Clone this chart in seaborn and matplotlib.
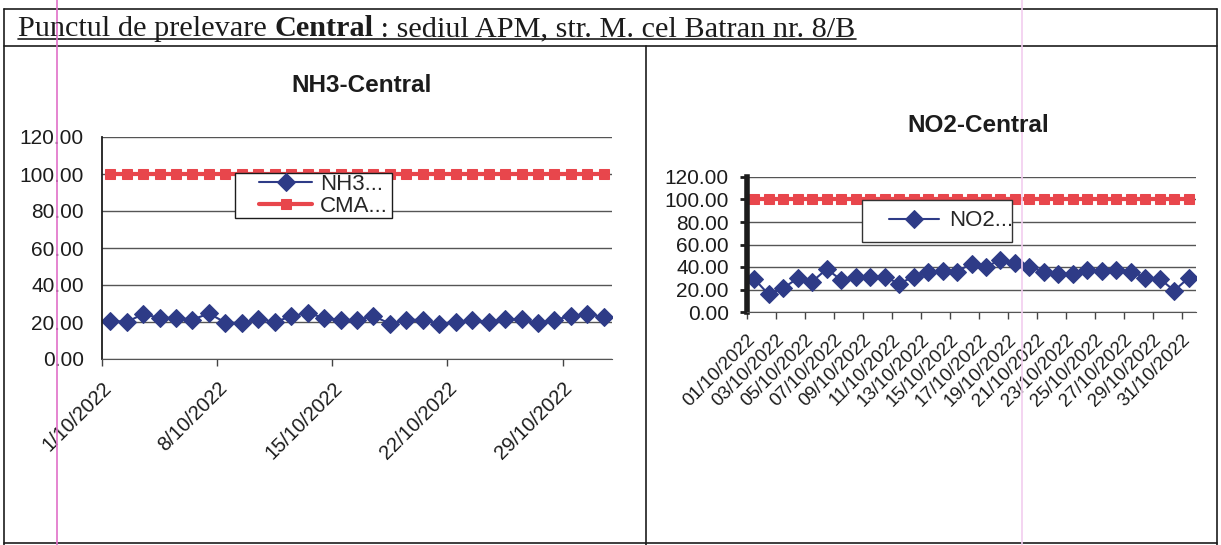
import matplotlib

matplotlib.use("Agg")
import matplotlib.pyplot as plt
import numpy as np
import pandas as pd
import seaborn as sns
from matplotlib.lines import Line2D
from matplotlib.patches import Rectangle

W, H = 1221, 545

# --- data ---
dates = pd.date_range("2022-10-01", "2022-10-31", freq="D")
nh3_values = [20.8, 20.0, 24.3, 22.2, 22.3, 21.3, 24.6, 19.7, 19.4, 21.7, 20.0,
              23.0, 25.0, 22.1, 21.2, 21.1, 23.2, 19.1, 21.3, 21.1, 19.0, 20.0,
              21.0, 20.0, 21.5, 21.6, 19.5, 21.3, 23.0, 24.5, 22.5]
no2_values = [29.4, 15.6, 21.2, 30.0, 27.0, 38.2, 28.5, 30.9, 30.9, 31.5, 25.0,
              31.5, 35.3, 36.8, 36.0, 43.0, 40.0, 46.5, 43.5, 40.0, 36.0, 33.5,
              33.5, 37.5, 36.5, 37.5, 36.0, 30.5, 29.5, 19.0, 30.5]
cma_values = [100.0, 100.0, 100.0, 100.0, 100.0, 100.0, 100.0, 100.0, 100.0, 100.0,
              100.0, 100.0, 100.0, 100.0, 100.0, 100.0, 100.0, 100.0, 100.0, 100.0,
              100.0, 100.0, 100.0, 100.0, 100.0, 100.0, 100.0, 100.0, 100.0, 100.0,
              100.0]
nh3_tick_days = ["2022-10-01", "2022-10-08", "2022-10-15", "2022-10-22", "2022-10-29"]
y_ticks = [0, 20, 40, 60, 80, 100, 120]

BLUE = "#2e3b87"
RED = "#e8464c"
INK = "#1c1c1c"

sns.set_style("white")
plt.rcParams["font.family"] = ["Liberation Sans", "DejaVu Sans"]

fig = plt.figure(figsize=(W / 100, H / 100), dpi=100)


def px_axes(left, top, right, bottom):
    return fig.add_axes([left / W, 1 - bottom / H, (right - left) / W, (bottom - top) / H])


def fig_line(x0, y0, x1, y1, color=INK, lw=1.2):
    fig.add_artist(Line2D([x0 / W, x1 / W], [1 - y0 / H, 1 - y1 / H],
                          transform=fig.transFigure, color=color, linewidth=lw))


def legend_box(x0, y0, x1, y1, edge=INK):
    fig.add_artist(Rectangle((x0 / W, 1 - y1 / H), (x1 - x0) / W, (y1 - y0) / H,
                             transform=fig.transFigure, facecolor="white",
                             edgecolor=edge, linewidth=1, zorder=3))


def style_axes(ax, left_width):
    ax.set_xlim(dates[0], dates[-1] + pd.Timedelta(days=1))
    ax.set_ylim(0, 120)
    ax.set_yticks(y_ticks)
    ax.set_yticklabels([f"{v:.2f}" for v in y_ticks], fontsize=15, color=INK)
    ax.yaxis.grid(True, color="#555555", linewidth=1)
    ax.set_axisbelow(True)
    for s in ["top", "right"]:
        ax.spines[s].set_visible(False)
    ax.spines["left"].set_color(INK)
    ax.spines["left"].set_linewidth(left_width)
    ax.spines["bottom"].set_color("#555555")
    ax.set_xlabel("")
    ax.set_ylabel("")


# points sit in the middle of each day, like the Excel date axis
x_mid = dates + pd.Timedelta(hours=12)

# ---------- NH3 ----------
ax1 = px_axes(102, 137, 612, 359)
sns.lineplot(x=x_mid, y=nh3_values, ax=ax1, color=BLUE, marker="D", markersize=9,
             markeredgecolor=BLUE, linewidth=1.5, label="NH3...")
sns.lineplot(x=x_mid, y=cma_values, ax=ax1, color=RED, marker="s", markersize=7,
             markeredgecolor=RED, linewidth=3, label="CMA...")
style_axes(ax1, 1.3)
ticks1 = pd.to_datetime(nh3_tick_days)
ax1.set_xticks(ticks1)
ax1.set_xticklabels([f"{d.day}/{d.month}/{d.year}" for d in ticks1], fontsize=14.5,
                    rotation=45, ha="right", rotation_mode="anchor", color=INK)
ax1.tick_params(axis="y", length=0, pad=13)
ax1.tick_params(axis="x", length=5, width=1, color="#444444", direction="out", pad=9,
                bottom=True)
h1, l1 = ax1.get_legend_handles_labels()
ax1.get_legend().remove()
legend_box(235, 173, 392, 218)
fig.legend(h1, l1, loc="upper left", bbox_to_anchor=(259 / W, 1 - 174 / H),
           bbox_transform=fig.transFigure, frameon=False, fontsize=16,
           handlelength=2.4, handletextpad=0.35, borderpad=0, borderaxespad=0,
           labelspacing=0.05)

# ---------- NO2 ----------
ax2 = px_axes(747, 177, 1196, 312)
sns.lineplot(x=x_mid, y=no2_values, ax=ax2, color=BLUE, marker="D", markersize=9,
             markeredgecolor=BLUE, linewidth=1.5, label="NO2...")
sns.lineplot(x=x_mid, y=cma_values, ax=ax2, color=RED, marker="s", markersize=7,
             markeredgecolor=RED, linewidth=3, label="_nolegend_")
style_axes(ax2, 4)
ax2.set_xticks(dates[::2])
ax2.set_xticklabels([d.strftime("%d/%m/%Y") for d in dates[::2]], fontsize=13.5,
                    rotation=45, ha="right", rotation_mode="anchor", color=INK)
ax2.tick_params(axis="x", length=5, width=1, color="#444444", direction="out",
                bottom=True, pad=9)
ax2.tick_params(axis="y", length=5, width=2, color=INK, direction="out", left=True, pad=8)
h2, l2 = ax2.get_legend_handles_labels()
ax2.get_legend().remove()
legend_box(862, 200, 1012, 242, edge="#333333")
fig.legend(h2, l2, loc="center left", bbox_to_anchor=(889 / W, 1 - 221 / H),
           bbox_transform=fig.transFigure, frameon=False, fontsize=16,
           handlelength=2.25, handletextpad=0.45, borderpad=0, borderaxespad=0)

# ---------- titles ----------
fig.text(362 / W, 1 - 85 / H, "NH3-Central", fontsize=17.5, fontweight="bold",
         ha="center", va="center", color=INK)
fig.text(978 / W, 1 - 125 / H, "NO2-Central", fontsize=17.5, fontweight="bold",
         ha="center", va="center", color=INK)

# ---------- table frame ----------
fig_line(4, 9, 1217, 9)
fig_line(4, 46, 1217, 46)
fig_line(4, 9, 4, 545)
fig_line(1217, 9, 1217, 545)
fig_line(646, 46, 646, 545)
fig_line(4, 543, 1217, 543)

# ---------- header with underline ----------
fig.canvas.draw()
renderer = fig.canvas.get_renderer()
parts = [("Punctul de prelevare ", "normal"), ("Central", "bold"),
         (" : sediul APM, str. M. cel Batran nr. 8/B", "normal")]
x = 18
for txt, weight in parts:
    t = fig.text(x / W, 1 - 36 / H, txt, fontsize=21.75, fontweight=weight,
                 family="Liberation Serif", ha="left", va="baseline", color=INK)
    x = t.get_window_extent(renderer).x1
fig_line(18, 39, x, 39, lw=1.2)

# scanner streaks
fig_line(57, 0, 57, 545, color="#e070c8", lw=1.2)
fig_line(1022, 0, 1022, 545, color="#f2cdef", lw=1.2)

fig.savefig("out.png", dpi=100)
